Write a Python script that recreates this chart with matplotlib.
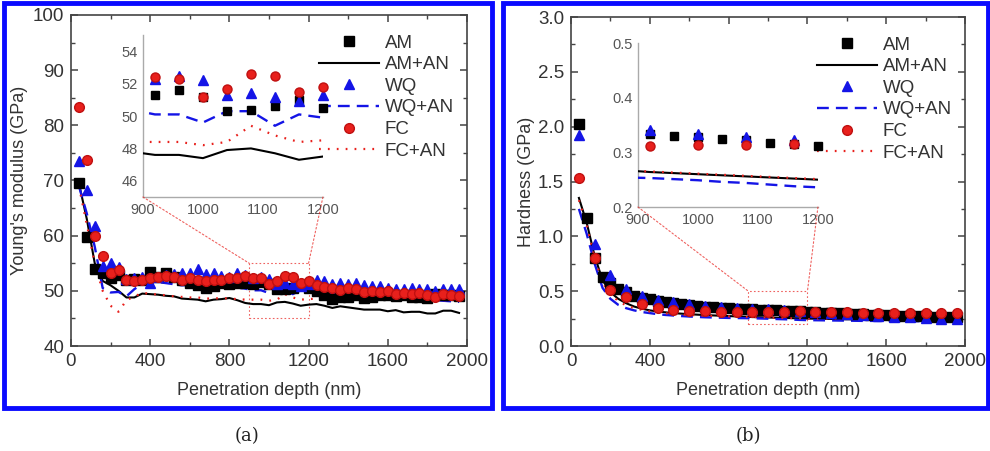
import numpy as np
import matplotlib
matplotlib.use("Agg")
import matplotlib.pyplot as plt
from matplotlib.patches import Rectangle, ConnectionPatch

plt.rcParams['font.family'] = ['Liberation Sans', 'DejaVu Sans']

# ---------------- data ----------------
depth = np.arange(40, 2000, 40)          # 40..1960 nm
depth80 = np.arange(40, 2000, 80)        # 40..1960 nm, every 80

E_AM = [69.5, 59.7, 54.0, 53.3, 52.3, 52.8, 52.0, 52.2, 52.0, 53.5, 52.5, 53.3, 52.5, 52.0, 51.5, 51.0,
        50.5, 50.8, 51.5, 51.2, 51.5, 51.5, 51.3, 51.6, 51.2, 50.3, 50.4, 50.6, 51.0, 50.5, 50.0, 49.2,
        48.6, 48.9, 48.9, 49.2, 48.7, 48.9, 49.2, 49.3, 49.0, 49.2, 48.8, 48.9, 48.7, 49.5, 49.3, 49.2, 49.0]
E_WQ = [73.5, 68.3, 61.7, 54.5, 55.0, 54.3, 52.2, 52.3, 52.5, 51.5, 52.5, 52.8, 53.0, 53.3, 53.3, 53.9,
        53.0, 53.2, 52.7, 52.5, 53.3, 52.8, 52.3, 52.5, 52.2, 51.3, 51.4, 51.2, 50.9, 51.3, 52.0, 51.8,
        51.3, 51.4, 51.2, 51.4, 51.0, 50.9, 50.9, 50.5, 50.4, 50.3, 50.6, 50.3, 50.4, 50.0, 50.3, 50.4, 50.3]
E_FC = [83.3, 73.8, 60.0, 56.3, 53.3, 53.8, 52.0, 51.8, 52.0, 52.3, 52.5, 52.6, 52.5, 52.0, 52.3, 51.9,
        51.8, 52.0, 52.0, 52.4, 52.3, 52.7, 52.4, 52.3, 51.2, 51.7, 52.6, 52.5, 51.5, 51.8, 51.1, 50.7,
        50.5, 50.2, 50.6, 50.3, 49.8, 50.0, 49.8, 50.0, 49.4, 49.6, 49.5, 49.6, 49.2, 48.8, 49.5, 49.3, 49.0]
E_AM_AN = [69.5, 63.0, 55.0, 51.8, 51.0, 50.0, 48.8, 48.8, 49.5, 49.4, 49.3, 49.1, 49.0, 48.6, 48.5, 48.4,
           48.1, 48.4, 48.5, 48.7, 48.3, 47.8, 47.6, 47.6, 47.4, 47.9, 48.0, 47.7, 47.3, 47.5, 47.6, 47.3,
           46.9, 47.2, 47.0, 46.8, 46.6, 46.6, 46.6, 46.3, 46.5, 46.1, 46.2, 46.2, 45.9, 45.9, 46.4, 46.4, 46.0]
E_WQ_AN = [69.0, 64.0, 58.0, 50.5, 49.7, 49.8, 49.0, 50.3, 51.3, 51.4, 51.6, 51.4, 51.2, 51.0, 51.1, 50.9,
           51.0, 50.8, 50.8, 50.6, 50.6, 50.4, 50.1, 50.1, 49.6, 50.3, 50.3, 49.4, 50.1, 49.9, 49.9, 49.6,
           49.4, 49.4, 49.2, 49.1, 49.0, 48.9, 48.9, 48.7, 48.7, 48.6, 48.5, 48.5, 48.4, 48.3, 48.2, 48.1, 48.0]
E_FC_AN = [69.0, 62.0, 55.0, 50.0, 47.3, 46.2, 48.3, 49.0, 49.6, 49.5, 49.3, 49.2, 49.0, 48.9, 48.8, 48.8,
           48.6, 48.6, 48.7, 48.6, 48.5, 48.4, 48.4, 48.4, 48.2, 48.4, 49.4, 48.8, 48.4, 48.5, 48.6, 48.7,
           48.6, 48.6, 48.5, 48.6, 48.5, 48.6, 48.5, 48.6, 48.5, 48.6, 48.4, 48.5, 48.4, 48.5, 48.3, 48.4, 48.3]

H_AM = [2.02, 1.17, 0.80, 0.63, 0.57, 0.52, 0.49, 0.455, 0.44, 0.425, 0.41, 0.40, 0.39, 0.38, 0.372, 0.366,
        0.36, 0.355, 0.35, 0.345, 0.34, 0.336, 0.333, 0.330, 0.328, 0.325, 0.322, 0.318, 0.315, 0.312, 0.308,
        0.304, 0.300, 0.297, 0.294, 0.291, 0.288, 0.285, 0.283, 0.280, 0.278, 0.276, 0.274, 0.272, 0.270,
        0.268, 0.266, 0.264, 0.262]
H_WQ = [1.92, 0.93, 0.645, 0.52, 0.46, 0.42, 0.40, 0.38, 0.365, 0.355, 0.345, 0.34, 0.334, 0.328, 0.322,
        0.31, 0.30, 0.29, 0.28, 0.27, 0.265, 0.26, 0.255, 0.25, 0.245]
H_FC = [1.53, 0.80, 0.51, 0.45, 0.38, 0.35, 0.33, 0.32, 0.315, 0.31, 0.31, 0.312, 0.313, 0.313, 0.315,
        0.31, 0.31, 0.31, 0.305, 0.305, 0.305, 0.305, 0.30, 0.30, 0.30]
H_AM_AN = [1.35, 1.12, 0.82, 0.60, 0.49, 0.43, 0.39, 0.36, 0.34, 0.325, 0.315, 0.307, 0.30, 0.295, 0.29,
           0.286, 0.282, 0.279, 0.276, 0.273, 0.27, 0.267, 0.264, 0.262, 0.26, 0.258, 0.256, 0.254, 0.252,
           0.25, 0.249, 0.248, 0.247, 0.246, 0.245, 0.245, 0.244, 0.244, 0.243, 0.243, 0.242, 0.242, 0.241,
           0.241, 0.240, 0.240, 0.240, 0.239, 0.239]
H_WQ_AN = [1.25, 1.02, 0.75, 0.53, 0.43, 0.375, 0.345, 0.325, 0.31, 0.30, 0.29, 0.283, 0.278, 0.273, 0.269,
           0.265, 0.262, 0.26, 0.258, 0.256, 0.255, 0.254, 0.253, 0.251, 0.249, 0.246, 0.244, 0.241, 0.238,
           0.236, 0.235, 0.234, 0.233, 0.232, 0.231, 0.230, 0.229, 0.229, 0.228, 0.228, 0.227, 0.227, 0.226,
           0.226, 0.225, 0.225, 0.225, 0.224, 0.224]
H_FC_AN = [1.33, 1.10, 0.80, 0.58, 0.47, 0.41, 0.37, 0.345, 0.33, 0.315, 0.305, 0.298, 0.292, 0.287, 0.283,
           0.28, 0.277, 0.274, 0.272, 0.27, 0.268, 0.266, 0.265, 0.263, 0.261, 0.259, 0.257, 0.255, 0.253,
           0.251, 0.250, 0.249, 0.248, 0.248, 0.247, 0.247, 0.246, 0.246, 0.245, 0.245, 0.245, 0.244, 0.244,
           0.244, 0.243, 0.243, 0.243, 0.242, 0.242]

# ---------------- style ----------------
BLUE = '#1414e6'
RED = '#e8201c'
TXT = '#333333'
DOT = (0, (0.8, 3.2))

fig = plt.figure(figsize=(9.9, 4.51), dpi=100)


def draw_series(ax, am_x, am, wq_x, wq, fc_x, fc, lx, am_an, wq_an, fc_an, ms=7, xr=None):
    def sel(x, y):
        x = np.asarray(x); y = np.asarray(y)
        if xr is None:
            return x, y
        m = (x >= xr[0]) & (x <= xr[1])
        return x[m], y[m]
    clip = xr is None
    h1, = ax.plot(*sel(am_x, am), 's', color='black', ms=ms - 0.5, label='AM', zorder=4, clip_on=clip)
    h2, = ax.plot(lx, am_an, '-', color='black', lw=1.5, label='AM+AN', zorder=3)
    h3, = ax.plot(*sel(wq_x, wq), '^', color=BLUE, ms=ms, label='WQ', zorder=4, clip_on=clip)
    h4, = ax.plot(lx, wq_an, '--', color=BLUE, lw=1.7, dashes=(5, 3), label='WQ+AN', zorder=3)
    h5, = ax.plot(*sel(fc_x, fc), 'o', color=RED, mec='#c01010', ms=ms, label='FC', zorder=4, clip_on=clip)
    h6, = ax.plot(lx, fc_an, ls=DOT, color=RED, lw=1.6, label='FC+AN', zorder=3)
    return [h1, h2, h3, h4, h5, h6]


def style_main(ax):
    for s in ax.spines.values():
        s.set_color('#444444')
        s.set_linewidth(1.2)
    ax.tick_params(which='both', direction='in', top=True, right=True, colors='#444444',
                   labelcolor=TXT, labelsize=13.5, pad=5)
    ax.tick_params(which='major', length=5, width=1.1)
    ax.tick_params(which='minor', length=3, width=1.0)
    ax.set_xlim(0, 2000)
    ax.set_xticks([0, 400, 800, 1200, 1600, 2000])
    ax.set_xticks(np.arange(200, 2000, 400), minor=True)
    ax.set_xlabel('Penetration depth (nm)', fontsize=13, color=TXT, labelpad=9)


def style_inset(ax):
    for side in ['top', 'right']:
        ax.spines[side].set_visible(False)
    for side in ['left', 'bottom']:
        ax.spines[side].set_color('#aaaaaa')
        ax.spines[side].set_linewidth(1.0)
    ax.patch.set_alpha(0)
    ax.tick_params(length=0, labelsize=10.5, labelcolor='#555555', pad=4)
    ax.set_xlim(900, 1200)
    ax.set_xticks([900, 1000, 1100, 1200])


def zoom_box(fig, ax, axin, x0, x1, y0, y1):
    ax.add_patch(Rectangle((x0, y0), x1 - x0, y1 - y0, fill=False, ec=RED, lw=0.8,
                           ls=(0, (1.5, 2)), alpha=0.7, zorder=2))
    for xc in (x0, x1):
        cp = ConnectionPatch(xyA=(xc, y0), coordsA=axin.transData, xyB=(xc, y1), coordsB=ax.transData,
                             color=RED, lw=0.8, ls=(0, (1.5, 2)), alpha=0.7)
        fig.add_artist(cp)


LEG = dict(loc='upper right', bbox_to_anchor=(0.995, 0.975), frameon=False,
           fontsize=13.5, handlelength=3.2, handletextpad=0.3, labelspacing=0.24, labelcolor=TXT,
           borderaxespad=0.2)

# ---------------- panel (a) ----------------
axa = fig.add_axes([0.0717, 0.2328, 0.400, 0.734])
handles = draw_series(axa, depth, E_AM, depth, E_WQ, depth, E_FC, depth, E_AM_AN, E_WQ_AN, E_FC_AN)
style_main(axa)
axa.set_ylim(40, 100)
axa.set_yticks(np.arange(40, 101, 10))
axa.set_yticks(np.arange(45, 100, 10), minor=True)
axa.set_ylabel("Young's modulus (GPa)", fontsize=13, color=TXT, labelpad=3)
axa.legend(handles=handles, **LEG)

ina = fig.add_axes([0.1444, 0.5632, 0.1818, 0.359])
draw_series(ina, depth, E_AM, depth, E_WQ, depth, E_FC, depth, E_AM_AN, E_WQ_AN, E_FC_AN,
            ms=6.5, xr=(900, 1200))
style_inset(ina)
ina.set_ylim(45, 55)
ina.set_yticks([46, 48, 50, 52, 54])
zoom_box(fig, axa, ina, 900, 1200, 45, 55)

# ---------------- panel (b) ----------------
axb = fig.add_axes([0.5768, 0.2328, 0.398, 0.7295])
handles = draw_series(axb, depth, H_AM, depth80, H_WQ, depth80, H_FC, depth, H_AM_AN, H_WQ_AN, H_FC_AN)
style_main(axb)
axb.set_ylim(0, 3.0)
axb.set_yticks(np.arange(0, 3.01, 0.5))
axb.set_yticks(np.arange(0.25, 3.0, 0.5), minor=True)
axb.yaxis.set_major_formatter(matplotlib.ticker.FormatStrFormatter('%.1f'))
axb.set_ylabel("Hardness (GPa)", fontsize=13, color=TXT, labelpad=2)
axb.legend(handles=handles, **LEG)

inb = fig.add_axes([0.6444, 0.541, 0.1818, 0.3636])
draw_series(inb, depth, H_AM, depth80, H_WQ, depth80, H_FC, depth, H_AM_AN, H_WQ_AN, H_FC_AN,
            ms=6.5, xr=(900, 1200))
style_inset(inb)
inb.set_ylim(0.2, 0.5)
inb.set_yticks([0.2, 0.3, 0.4, 0.5])
inb.yaxis.set_major_formatter(matplotlib.ticker.FormatStrFormatter('%.1f'))
zoom_box(fig, axb, inb, 900, 1200, 0.2, 0.5)

# ---------------- frames and captions ----------------
W, H = 990, 451
for (x0, x1) in [(4, 492), (503, 988)]:
    fig.add_artist(Rectangle((x0 / W, 1 - 408 / H), (x1 - x0) / W, (408 - 3) / H,
                             transform=fig.transFigure, fill=False, ec='#0a0aff', lw=3.5))
fig.text(247 / W, 1 - 436 / H, '(a)', ha='center', va='center', fontsize=13,
         family=['DejaVu Serif'], color='#222222')
fig.text(748 / W, 1 - 436 / H, '(b)', ha='center', va='center', fontsize=13,
         family=['DejaVu Serif'], color='#222222')

fig.savefig('out.png', dpi=100)
